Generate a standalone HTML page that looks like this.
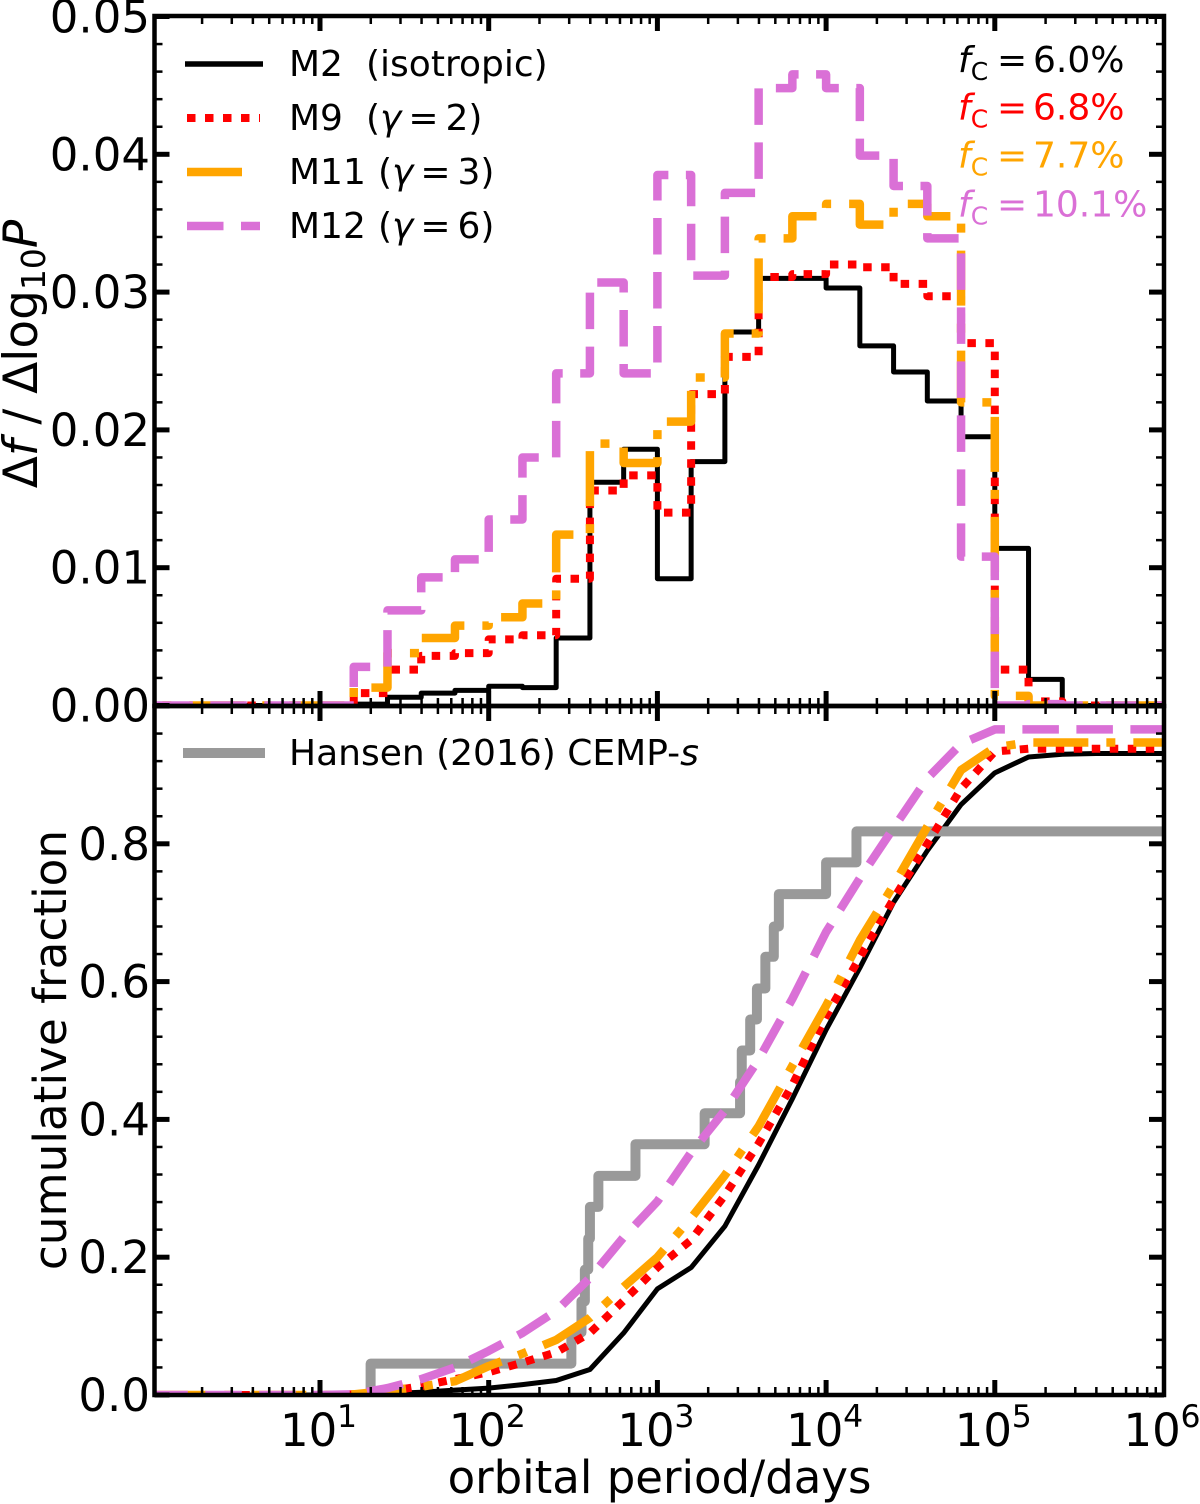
<!DOCTYPE html>
<html lang="en">
<head>
<meta charset="utf-8">
<title>Orbital period distributions</title>
<style>
html,body{margin:0;padding:0;background:#fff;}
svg{display:block;}
text{font-family:"DejaVu Sans","Liberation Sans",sans-serif;fill:#000;}
.it{font-style:italic;}
</style>
</head>
<body>
<svg id="chart" xmlns="http://www.w3.org/2000/svg" width="1200" height="1504" viewBox="0 0 1200 1504">
  <defs>
    <clipPath id="clip-top"><rect x="154.5" y="16" width="1009.5" height="690"/></clipPath>
    <clipPath id="clip-bot"><rect x="154.5" y="706" width="1009.5" height="689"/></clipPath>
  </defs>
  <g id="series-top" clip-path="url(#clip-top)"></g>
  <g id="series-bot" clip-path="url(#clip-bot)"></g>
  <g id="ticks" stroke="#000"></g>
  <g fill="none" stroke="#000" stroke-width="4.5">
    <rect x="154.5" y="16" width="1009.5" height="690"/>
    <rect x="154.5" y="706" width="1009.5" height="689"/>
  </g>
  <g id="labels"></g>

  <text x="659.5" y="1493" font-size="45" text-anchor="middle">orbital period/days</text>
  <text transform="translate(37,354) rotate(-90)" font-size="47" text-anchor="middle">Δ<tspan class="it">f</tspan> / Δlog<tspan font-size="33" dy="8">10</tspan><tspan class="it" dy="-8">P</tspan></text>
  <text transform="translate(66,1050) rotate(-90)" font-size="45.3" text-anchor="middle">cumulative fraction</text>

  <g>
    <line x1="185" x2="263" y1="64" y2="64" stroke="#000" stroke-width="5.5"/>
    <line x1="187" x2="260" y1="118" y2="118" stroke="#f00" stroke-width="8" stroke-dasharray="8.5 9.5"/>
    <line x1="187" x2="260" y1="172" y2="172" stroke="#ffa500" stroke-width="8.5" stroke-dasharray="55 18 9 18"/>
    <line x1="187" x2="260" y1="226" y2="226" stroke="#da70d6" stroke-width="8.5" stroke-dasharray="36.5 17.5"/>
    <text x="289" y="76" font-size="36">M2<tspan x="366">(isotropic)</tspan></text>
    <text x="289" y="130" font-size="36">M9<tspan x="366">(</tspan><tspan class="it">γ</tspan><tspan dx="7">=</tspan><tspan dx="7">2)</tspan></text>
    <text x="289" y="184" font-size="36">M11<tspan x="378">(</tspan><tspan class="it">γ</tspan><tspan dx="7">=</tspan><tspan dx="7">3)</tspan></text>
    <text x="289" y="238" font-size="36">M12<tspan x="378">(</tspan><tspan class="it">γ</tspan><tspan dx="7">=</tspan><tspan dx="7">6)</tspan></text>
  </g>

  <g font-size="36">
    <text x="958" y="72" style="fill:#000"><tspan class="it">f</tspan><tspan font-size="25" dy="8">C</tspan><tspan dy="-8" x="997">=</tspan><tspan x="1033">6.0%</tspan></text>
    <text x="958" y="119.5" style="fill:#f00"><tspan class="it">f</tspan><tspan font-size="25" dy="8">C</tspan><tspan dy="-8" x="997">=</tspan><tspan x="1033">6.8%</tspan></text>
    <text x="958" y="167.5" style="fill:#ffa500"><tspan class="it">f</tspan><tspan font-size="25" dy="8">C</tspan><tspan dy="-8" x="997">=</tspan><tspan x="1033">7.7%</tspan></text>
    <text x="958" y="216.5" style="fill:#da70d6"><tspan class="it">f</tspan><tspan font-size="25" dy="8">C</tspan><tspan dy="-8" x="997">=</tspan><tspan x="1033">10.1%</tspan></text>
  </g>

  <g>
    <line x1="183" x2="265" y1="753" y2="753" stroke="#999" stroke-width="10"/>
    <text x="289" y="765" font-size="36">Hansen (2016) CEMP-<tspan class="it">s</tspan></text>
  </g>
</svg>
<script>
// Shared log10(period) bin edges
const logEdges = [0,0.2,0.4,0.6,0.8,1.0,1.2,1.4,1.6,1.8,2.0,2.2,2.4,2.6,2.8,3.0,3.2,3.4,3.6,3.8,4.0,4.2,4.4,4.6,4.8,5.0,5.2,5.4,5.6,5.8,6.0];

// Histogram panel: df / dlog10P per bin
const histM2  = [0,0,0,0,0,0,0.0001,0.0006,0.0009,0.0011,0.0014,0.0013,0.0049,0.0162,0.0186,0.0092,0.0177,0.0271,0.0310,0.0310,0.0303,0.0261,0.0242,0.0221,0.0195,0.0114,0.0019,0,0,0];
const histM9  = [0,0,0,0,0,0,0.0009,0.0026,0.0036,0.0038,0.0048,0.0051,0.0092,0.0156,0.0167,0.0140,0.0226,0.0253,0.0311,0.0313,0.0320,0.0318,0.0306,0.0297,0.0263,0.0026,0.0003,0,0,0];
const histM11 = [0,0,0,0,0,0,0.0013,0.0038,0.0049,0.0058,0.0064,0.0074,0.0124,0.0190,0.0176,0.0206,0.0238,0.0270,0.0339,0.0355,0.0364,0.0349,0.0364,0.0355,0.0220,0.0007,0,0,0,0];
const histM12 = [0,0,0,0,0,0,0.0028,0.0069,0.0093,0.0106,0.0135,0.0180,0.0241,0.0307,0.0241,0.0385,0.0312,0.0372,0.0448,0.0458,0.0448,0.0399,0.0377,0.0339,0.0108,0,0.0001,0,0,0];

// Cumulative panel: cumulative fraction at each bin edge
const cumM2  = [0,0,0,0,0,0,0,0.002,0.004,0.007,0.010,0.015,0.021,0.037,0.090,0.154,0.185,0.245,0.334,0.430,0.530,0.620,0.715,0.790,0.857,0.903,0.926,0.930,0.931,0.931,0.931];
const cumM9  = [0,0,0,0,0,0,0.001,0.005,0.013,0.023,0.033,0.047,0.062,0.090,0.137,0.185,0.225,0.290,0.365,0.450,0.550,0.635,0.720,0.800,0.880,0.934,0.938,0.938,0.938,0.938,0.938];
const cumM11 = [0,0,0,0,0,0,0.001,0.006,0.012,0.020,0.042,0.060,0.080,0.112,0.157,0.200,0.257,0.319,0.390,0.478,0.565,0.660,0.740,0.825,0.907,0.940,0.947,0.947,0.947,0.947,0.947];
const cumM12 = [0,0,0,0,0,0,0.001,0.010,0.023,0.040,0.064,0.090,0.122,0.170,0.229,0.281,0.352,0.413,0.487,0.575,0.672,0.750,0.823,0.895,0.945,0.966,0.966,0.966,0.966,0.966,0.966];

// Hansen (2016) CEMP-s stepped distribution
const hansenLogP = [1.30,2.49,2.55,2.57,2.59,2.60,2.65,2.87,3.28,3.49,3.50,3.55,3.59,3.64,3.69,3.72,4.00,4.18];
const hansenFrac = [0.0455,0.0909,0.136,0.182,0.227,0.273,0.318,0.364,0.409,0.4545,0.50,0.545,0.59,0.636,0.68,0.727,0.773,0.818];

// Tick data
const xMajorLogs = [0,1,2,3,4,5,6];
const xTickLabels = ['1','2','3','4','5','6'];
const minorMultiples = [2,3,4,5,6,7,8,9];
const topYTicks = [0,0.01,0.02,0.03,0.04,0.05];
const topYTickLabels = ['0.00','0.01','0.02','0.03','0.04','0.05'];
const topYMinor = [0.002,0.004,0.006,0.008,0.012,0.014,0.016,0.018,0.022,0.024,0.026,0.028,0.032,0.034,0.036,0.038,0.042,0.044,0.046,0.048];
const botYTicks = [0,0.2,0.4,0.6,0.8,1.0];
const botYTickLabels = ['0.0','0.2','0.4','0.6','0.8'];
const botYMinor = [0.04,0.08,0.12,0.16,0.24,0.28,0.32,0.36,0.44,0.48,0.52,0.56,0.64,0.68,0.72,0.76,0.84,0.88,0.92,0.96];

// Axis functions
function xAxis(logP){ return 151.3 + 168.7 * logP; }
function yTop(v){ return 705.5 - 13780 * v; }
function yBot(v){ return 1395 - 689 * v; }

const SVGNS = 'http://www.w3.org/2000/svg';
const styles = {
  m2:  {color:'#000000', width:5,   dash:''},
  m9:  {color:'#ff0000', width:8,   dash:'8.5 9.5'},
  m11: {color:'#ffa500', width:8.5, dash:'55 18 9 18'},
  m12: {color:'#da70d6', width:8.5, dash:'36.5 17.5'},
  hansen: {color:'#999999', width:10, dash:''}
};

function stepPath(values){
  let d = 'M' + xAxis(logEdges[0]) + ' ' + yTop(values[0]);
  for (let i = 0; i < values.length; i++) {
    d += 'L' + xAxis(logEdges[i]) + ' ' + yTop(values[i]);
    d += 'L' + xAxis(logEdges[i + 1]) + ' ' + yTop(values[i]);
  }
  return d;
}
function linePath(values){
  let d = '';
  for (let i = 0; i < values.length; i++) {
    d += (i ? 'L' : 'M') + xAxis(logEdges[i]) + ' ' + yBot(values[i]);
  }
  return d;
}
function hansenPath(){
  let d = 'M' + xAxis(hansenLogP[0]) + ' ' + yBot(0);
  for (let i = 0; i < hansenLogP.length; i++) {
    d += 'L' + xAxis(hansenLogP[i]) + ' ' + yBot(hansenFrac[i]);
    const next = i + 1 < hansenLogP.length ? hansenLogP[i + 1] : 6;
    d += 'L' + xAxis(next) + ' ' + yBot(hansenFrac[i]);
  }
  return d;
}
function makePath(parent, d, st, offset){
  const p = document.createElementNS(SVGNS, 'path');
  p.setAttribute('d', d);
  p.setAttribute('fill', 'none');
  p.setAttribute('stroke', st.color);
  p.setAttribute('stroke-width', st.width);
  p.setAttribute('stroke-linejoin', 'round');
  if (st.dash) p.setAttribute('stroke-dasharray', st.dash);
  if (offset) p.setAttribute('stroke-dashoffset', offset);
  parent.appendChild(p);
  return p;
}

const topGroup = document.getElementById('series-top');
const botGroup = document.getElementById('series-bot');

const h2 = makePath(topGroup, stepPath(histM2), styles.m2, 0);


const h9 = makePath(topGroup, stepPath(histM9), styles.m9, 12);


const h11 = makePath(topGroup, stepPath(histM11), styles.m11, 62);


const h12 = makePath(topGroup, stepPath(histM12), styles.m12, 49);



const c2 = makePath(botGroup, linePath(cumM2), styles.m2, 0);


const cH = makePath(botGroup, hansenPath(), styles.hansen, 0);


const c9 = makePath(botGroup, linePath(cumM9), styles.m9, 0);


const c11 = makePath(botGroup, linePath(cumM11), styles.m11, 0);


const c12 = makePath(botGroup, linePath(cumM12), styles.m12, 0);



// Ticks
const tickGroup = document.getElementById('ticks');
const LEFT = 154.5, RIGHT = 1164, MAJOR = 15, MINOR = 8;
function addTick(x1, y1, x2, y2, w){
  const t = document.createElementNS(SVGNS, 'line');
  t.setAttribute('x1', x1);
  t.setAttribute('y1', y1);
  t.setAttribute('x2', x2);
  t.setAttribute('y2', y2);
  t.setAttribute('stroke-width', w);
  
  
  tickGroup.appendChild(t);
}
const xRows = [[16, 1], [706, -1], [706, 1], [1395, -1]];
xRows.forEach(function(row){
  xMajorLogs.forEach(function(l){
    if (l > 0 && l < 6) addTick(xAxis(l), row[0], xAxis(l), row[0] + row[1] * MAJOR, 5);
    if (l < 6) minorMultiples.forEach(function(m){
      const x = xAxis(l + Math.log10(m));
      addTick(x, row[0], x, row[0] + row[1] * MINOR, 2.5);
    });
  });
});
topYTicks.forEach(function(v){
  addTick(LEFT, yTop(v), LEFT + MAJOR, yTop(v), 5);
  addTick(RIGHT, yTop(v), RIGHT - MAJOR, yTop(v), 5);
});
topYMinor.forEach(function(v){
  addTick(LEFT, yTop(v), LEFT + MINOR, yTop(v), 2.5);
  addTick(RIGHT, yTop(v), RIGHT - MINOR, yTop(v), 2.5);
});
botYTicks.forEach(function(v){
  addTick(LEFT, yBot(v), LEFT + MAJOR, yBot(v), 5);
  addTick(RIGHT, yBot(v), RIGHT - MAJOR, yBot(v), 5);
});
botYMinor.forEach(function(v){
  addTick(LEFT, yBot(v), LEFT + MINOR, yBot(v), 2.5);
  addTick(RIGHT, yBot(v), RIGHT - MINOR, yBot(v), 2.5);
});

// Tick labels
const labelGroup = document.getElementById('labels');
const Y_LABEL_SIZE = 45;
topYTickLabels.forEach(function(txt, i){
  const t = document.createElementNS(SVGNS, 'text');
  t.setAttribute('x', 150);
  t.setAttribute('y', yTop(topYTicks[i]) + 16);
  t.setAttribute('font-size', Y_LABEL_SIZE);
  t.setAttribute('text-anchor', 'end');
  
  
  t.textContent = txt;
  labelGroup.appendChild(t);
});
botYTickLabels.forEach(function(txt, i){
  const t = document.createElementNS(SVGNS, 'text');
  t.setAttribute('x', 150);
  t.setAttribute('y', yBot(botYTicks[i]) + 16);
  t.setAttribute('font-size', Y_LABEL_SIZE);
  t.setAttribute('text-anchor', 'end');
  
  
  t.textContent = txt;
  labelGroup.appendChild(t);
});
xTickLabels.forEach(function(exp, i){
  const cx = xAxis(i + 1);
  const t = document.createElementNS(SVGNS, 'text');
  t.setAttribute('x', cx - 40);
  t.setAttribute('y', 1446);
  t.setAttribute('font-size', Y_LABEL_SIZE);
  
  
  t.textContent = '10';
  labelGroup.appendChild(t);
  const e = document.createElementNS(SVGNS, 'text');
  e.setAttribute('x', cx + 17);
  e.setAttribute('y', 1427);
  e.setAttribute('font-size', 31.5);
  
  
  e.textContent = exp;
  labelGroup.appendChild(e);
});
</script>
</body>
</html>
